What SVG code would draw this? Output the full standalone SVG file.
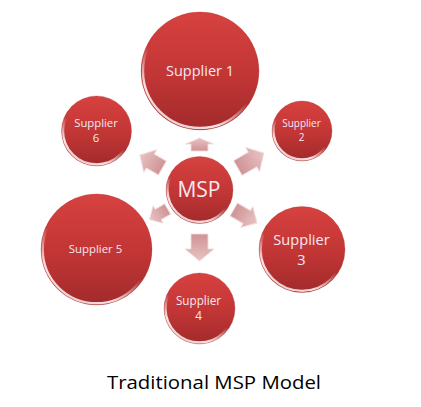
<svg xmlns="http://www.w3.org/2000/svg" width="421" height="407" viewBox="0 0 421 407">
<style>
.ball{fill:url(#red)}
.rim{fill:none;stroke:url(#rimg);stroke-width:2.4}
.edge{fill:none;stroke:#9c2a2a;stroke-opacity:0.35;stroke-width:0.8}
.lbl{font-family:"Open Sans","Liberation Sans",sans-serif;fill:#f6e8f2;text-anchor:middle}
.arr{fill:url(#pink);stroke:#f3dcdc;stroke-width:0.9;stroke-linejoin:round}
.title{font-family:"Open Sans","Liberation Sans",sans-serif;font-size:19px;fill:#000;text-anchor:middle}
</style>
<defs>
<linearGradient id="red" x1="0" y1="0" x2="0" y2="1">
<stop offset="0" stop-color="#d6423f"/>
<stop offset="0.55" stop-color="#c13535"/>
<stop offset="1" stop-color="#a22a2b"/>
</linearGradient>
<linearGradient id="rimg" x1="0.75" y1="0.1" x2="0.25" y2="1">
<stop offset="0" stop-color="#ffffff" stop-opacity="0"/>
<stop offset="0.5" stop-color="#ffffff" stop-opacity="0"/>
<stop offset="0.8" stop-color="#ffeaea" stop-opacity="0.95"/>
<stop offset="1" stop-color="#ffffff" stop-opacity="0.75"/>
</linearGradient>
<linearGradient id="pink" x1="0" y1="0" x2="0" y2="1">
<stop offset="0" stop-color="#e9c3c4"/>
<stop offset="1" stop-color="#cf9395"/>
</linearGradient>
</defs>
<g id="connectors">
<path class="arr" transform="translate(199.5,144.5)" d="M0,-6.5 L14,-0.5 L8.5,-0.5 L8.5,6.5 L-8.5,6.5 L-8.5,-0.5 L-14,-0.5 Z"/>
<path class="arr" transform="translate(152,162) rotate(-60)" d="M0,-14 L13,-2 L8,-2 L8,12 L-8,12 L-8,-2 L-13,-2 Z"/>
<path class="arr" transform="translate(250,161) rotate(60)" d="M0,-16 L14,-3 L8.5,-3 L8.5,14 L-8.5,14 L-8.5,-3 L-14,-3 Z"/>
<path class="arr" transform="translate(159,214) rotate(-120)" d="M0,-11 L10,-1 L6,-1 L6,10 L-6,10 L-6,-1 L-10,-1 Z"/>
<path class="arr" transform="translate(245,216) rotate(120)" d="M0,-14 L12,-2 L7.5,-2 L7.5,13 L-7.5,13 L-7.5,-2 L-12,-2 Z"/>
<path class="arr" transform="translate(199.5,248) rotate(180)" d="M0,-13 L14.5,-1 L8.5,-1 L8.5,14 L-8.5,14 L-8.5,-1 L-14.5,-1 Z"/>
</g>
<g id="supplier1">
<circle class="ball" cx="200" cy="71" r="59"/>
<circle class="rim" cx="200" cy="71" r="57"/>
<circle class="edge" cx="200" cy="71" r="59"/>
<text class="lbl" x="200" y="76" font-size="14.5">Supplier 1</text>
</g>
<g id="supplier6">
<circle class="ball" cx="96.5" cy="131" r="35"/>
<circle class="rim" cx="96.5" cy="131" r="33.5"/>
<circle class="edge" cx="96.5" cy="131" r="35"/>
<text class="lbl" x="96" y="126.5" font-size="11.3">Supplier</text>
<text class="lbl" x="96" y="141.5" font-size="11.3">6</text>
</g>
<g id="supplier2">
<circle class="ball" cx="302" cy="131" r="30"/>
<circle class="rim" cx="302" cy="131" r="28.5"/>
<circle class="edge" cx="302" cy="131" r="30"/>
<text class="lbl" x="301.5" y="127" font-size="10">Supplier</text>
<text class="lbl" x="301.5" y="141" font-size="10">2</text>
</g>
<g id="msp">
<circle class="ball" cx="199.5" cy="190" r="33.5"/>
<circle class="rim" cx="199.5" cy="190" r="32"/>
<circle class="edge" cx="199.5" cy="190" r="33.5"/>
<text class="lbl" x="199" y="197" font-size="21">MSP</text>
</g>
<g id="supplier5">
<circle class="ball" cx="96.5" cy="249.5" r="55.5"/>
<circle class="rim" cx="96.5" cy="249.5" r="53.8"/>
<circle class="edge" cx="96.5" cy="249.5" r="55.5"/>
<text class="lbl" x="95.5" y="253" font-size="11.4">Supplier 5</text>
</g>
<g id="supplier3">
<circle class="ball" cx="302" cy="249.5" r="43"/>
<circle class="rim" cx="302" cy="249.5" r="41.4"/>
<circle class="edge" cx="302" cy="249.5" r="43"/>
<text class="lbl" x="301.5" y="245" font-size="14.6">Supplier</text>
<text class="lbl" x="301.5" y="264.5" font-size="14.6">3</text>
</g>
<g id="supplier4">
<circle class="ball" cx="199.5" cy="308.5" r="35.5"/>
<circle class="rim" cx="199.5" cy="308.5" r="34"/>
<circle class="edge" cx="199.5" cy="308.5" r="35.5"/>
<text class="lbl" x="198.5" y="304.5" font-size="11.7">Supplier</text>
<text class="lbl" x="198.5" y="320" font-size="11.7">4</text>
</g>
<text class="title" x="214" y="388.5" textLength="214" lengthAdjust="spacingAndGlyphs">Traditional MSP Model</text>
</svg>
